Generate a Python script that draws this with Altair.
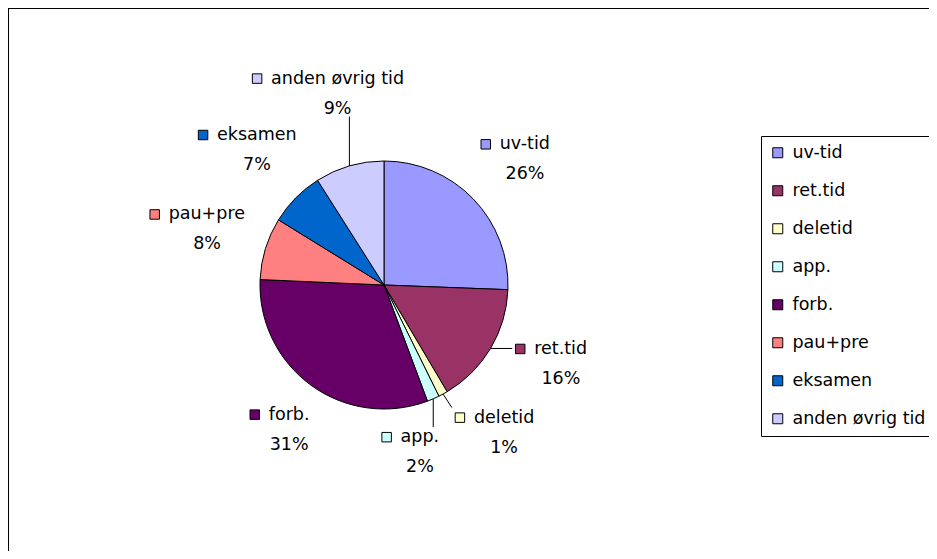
import math
import altair as alt
import pandas as pd

# ---------------- data ----------------
categories = ["uv-tid", "ret.tid", "deletid", "app.", "forb.", "pau+pre", "eksamen", "anden øvrig tid"]
shares = [25.6, 15.9, 1.2, 1.6, 31.4, 8.1, 7.2, 9.0]
colors = ["#9999FF", "#993366", "#FFFFCC", "#CCFFFF", "#660066", "#FF8080", "#0066CC", "#CCCCFF"]

# ---------------- layout / style ----------------
W, H = 921, 543          # drawing area (page margin 8px)
CX, CY = 376, 277        # pie centre inside the view
R = 124                  # pie radius
FONT = "DejaVu Sans"
FS = 17.5
GAP = 19                 # label gap from pie edge
MIN_SEP = 28             # minimum angular separation of labels (deg)
LINE_SEP = 30            # baseline distance name -> percent
HALF_H = 21              # half height of a label block
CLEAR = 14               # minimum clearance between label blocks

# approximate DejaVu Sans advance widths (em) for text measurement
_EM = {' ': .318, 'a': .613, 'b': .635, 'd': .635, 'e': .615, 'f': .352, 'g': .635,
       'i': .278, 'k': .579, 'l': .278, 'm': .974, 'n': .634, 'o': .612, 'p': .635,
       'r': .411, 's': .521, 't': .392, 'u': .634, 'v': .592, 'ø': .612, '-': .361,
       '.': .318, '+': .838, '%': .95}


def text_width(s):
    return sum(_EM.get(ch, .636) for ch in s) * FS


def spread(angles, gap):
    groups = [[i] for i in range(len(angles))]

    def pos(g):
        mean = sum(angles[i] for i in g) / len(g)
        start = mean - gap * (len(g) - 1) / 2
        return [start + gap * k for k in range(len(g))]

    changed = True
    while changed:
        changed = False
        for j in range(len(groups) - 1):
            if pos(groups[j + 1])[0] - pos(groups[j])[-1] < gap:
                groups[j] = groups[j] + groups[j + 1]
                del groups[j + 1]
                changed = True
                break
    out = [0.0] * len(angles)
    for g in groups:
        for i, p in zip(g, pos(g)):
            out[i] = p
    return out


total = sum(shares)
mids = []
cum = 0.0
for v in shares:
    mids.append((cum + v / 2) / total * 360.0)
    cum += v
label_angles = spread(mids, MIN_SEP)

label_rows, leader_rows, placed = [], [], []
for i, (cat, v, col) in enumerate(zip(categories, shares, colors)):
    wt = text_width(cat)
    hw = (wt + 19) / 2
    a = math.radians(label_angles[i])
    s, c = math.sin(a), math.cos(a)
    d = R + GAP + abs(s) * hw + abs(c) * HALF_H
    pushed = False
    while True:
        bx, by = CX + d * s, CY - d * c
        box = (bx - hw, by - HALF_H, bx + hw, by + HALF_H)
        hit = any(not (box[2] + CLEAR < o[0] or o[2] + CLEAR < box[0] or
                       box[3] + CLEAR < o[1] or o[3] + CLEAR < box[1]) for o in placed)
        if not hit:
            break
        d += 1
        pushed = True
    placed.append(box)
    left = box[0]
    name_x = left + 19
    name_y = by - 9
    label_rows.append({
        "cat": cat,
        "pct": f"{round(v / total * 100)}%",
        "col": col,
        "name_x": name_x, "name_y": name_y,
        "pct_x": name_x + wt / 2, "pct_y": name_y + LINE_SEP,
        "mk_x": left + 5, "mk_y": name_y - 5,
    })
    if pushed or abs(label_angles[i] - mids[i]) > 2:
        m = math.radians(mids[i])
        px, py = CX + R * math.sin(m), CY - R * math.cos(m)
        qx = min(max(px, box[0] - 3), box[2] + 3)
        qy = min(max(py, box[1] - 3), box[3] + 3)
        leader_rows.append({"x": px, "y": py, "x2": qx, "y2": qy})

pie_df = pd.DataFrame({"cat": categories, "share": shares, "order": list(range(len(categories)))})
lab_df = pd.DataFrame(label_rows)
lead_df = pd.DataFrame(leader_rows)
frame_df = pd.DataFrame({"k": [0]})

color_scale = alt.Scale(domain=categories, range=colors)

arc = alt.Chart(pie_df).mark_arc(radius=R, stroke="black", strokeWidth=1).encode(
    theta=alt.Theta("share:Q", stack=True),
    order=alt.Order("order:Q"),
    fill=alt.Fill(
        "cat:N", scale=color_scale, sort=categories,
        legend=alt.Legend(
            title=None, orient="none", legendX=753, legendY=128,
            symbolType="square", symbolSize=100, symbolStrokeColor="black",
            symbolStrokeWidth=1, symbolOpacity=1,
            labelFont=FONT, labelFontSize=FS, labelColor="black", labelOffset=6,
            labelLimit=300, rowPadding=19, padding=8,
            strokeColor="black", fillColor="white", cornerRadius=0,
        ),
    ),
    x=alt.value(CX), y=alt.value(CY),
)

leaders = alt.Chart(lead_df).mark_rule(color="black", strokeWidth=1).encode(
    x=alt.X("x:Q", scale=None, axis=None), y=alt.Y("y:Q", scale=None, axis=None),
    x2="x2:Q", y2="y2:Q",
)

markers = alt.Chart(lab_df).mark_square(size=90, filled=True, stroke="black", strokeWidth=1, opacity=1).encode(
    x=alt.X("mk_x:Q", scale=None, axis=None), y=alt.Y("mk_y:Q", scale=None, axis=None),
    fill=alt.Fill("col:N", scale=None),
)

names = alt.Chart(lab_df).mark_text(align="left", baseline="alphabetic", font=FONT, fontSize=FS, color="black").encode(
    x=alt.X("name_x:Q", scale=None, axis=None), y=alt.Y("name_y:Q", scale=None, axis=None), text="cat:N",
)

pcts = alt.Chart(lab_df).mark_text(align="center", baseline="alphabetic", font=FONT, fontSize=FS, color="black").encode(
    x=alt.X("pct_x:Q", scale=None, axis=None), y=alt.Y("pct_y:Q", scale=None, axis=None), text="pct:N",
)

frame_left = alt.Chart(frame_df).mark_rule(color="black", strokeWidth=1).encode(
    x=alt.value(0.5), y=alt.value(0), y2=alt.value(H))
frame_top = alt.Chart(frame_df).mark_rule(color="black", strokeWidth=1).encode(
    x=alt.value(0), x2=alt.value(W), y=alt.value(0.5))

chart = alt.layer(arc, leaders, markers, names, pcts, frame_left, frame_top).properties(
    width=W, height=H, padding=0, autosize=alt.AutoSizeParams(type="none"),
    background="white",
).configure_view(stroke=None)

chart.save("out.html", embed_options={"renderer": "svg", "actions": False})
